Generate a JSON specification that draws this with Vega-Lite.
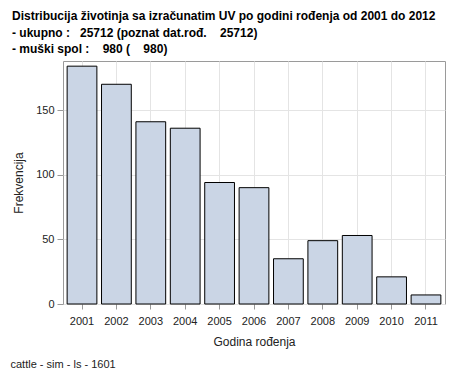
{
  "$schema": "https://vega.github.io/schema/vega-lite/v6.json",
  "autosize": "none",
  "width": 382,
  "height": 243,
  "padding": {"left": 63, "top": 61, "right": 9, "bottom": 74},
  "background": "white",
  "title": {
    "text": ["Distribucija životinja sa izračunatim UV po godini rođenja od 2001 do 2012", "- ukupno :\u00a0\u00a0\u00a025712 (poznat dat.rođ.\u00a0\u00a0\u00a0\u00a025712)", "- muški spol :\u00a0\u00a0\u00a0\u00a0980 (\u00a0\u00a0\u00a0\u00a0980)"],
    "anchor": "start",
    "frame": "group",
    "dx": -51,
    "offset": 5,
    "font": "Liberation Sans",
    "fontSize": 12,
    "fontWeight": "bold",
    "color": "black",
    "lineHeight": 16.5
  },
  "data": {
    "values": [
      {"year": "2001", "n": 184},
      {"year": "2002", "n": 170},
      {"year": "2003", "n": 141},
      {"year": "2004", "n": 136},
      {"year": "2005", "n": 94},
      {"year": "2006", "n": 90},
      {"year": "2007", "n": 35},
      {"year": "2008", "n": 49},
      {"year": "2009", "n": 53},
      {"year": "2010", "n": 21},
      {"year": "2011", "n": 7}
    ]
  },
  "layer": [
    {
      "mark": {"type": "bar", "fill": "#CAD5E5", "stroke": "black", "strokeWidth": 1},
      "encoding": {
        "x": {
          "field": "year", "type": "ordinal",
          "scale": {"paddingInner": 0.135, "paddingOuter": 0.12},
          "axis": {
            "title": "Godina rođenja",
            "labelAngle": 0,
            "grid": true,
            "bandPosition": 0.5,
            "gridColor": "#E4E4E4",
            "domain": false,
            "tickColor": "#999999",
            "tickSize": 5,
            "labelPadding": 6,
            "labelFont": "Liberation Sans",
            "labelFontSize": 11,
            "labelColor": "#222222",
            "titleFont": "Liberation Sans",
            "titleFontSize": 12,
            "titleFontWeight": "normal",
            "titleColor": "#222222",
            "titleBaseline": "alphabetic",
            "titleY": 41
          }
        },
        "y": {
          "field": "n", "type": "quantitative",
          "scale": {"domain": [0, 188], "nice": false},
          "axis": {
            "title": "Frekvencija",
            "values": [0, 50, 100, 150],
            "grid": true,
            "gridColor": "#E4E4E4",
            "domain": false,
            "tickColor": "#999999",
            "tickSize": 6,
            "labelPadding": 3,
            "labelFont": "Liberation Sans",
            "labelFontSize": 11,
            "labelColor": "#222222",
            "titleFont": "Liberation Sans",
            "titleFontSize": 12,
            "titleFontWeight": "normal",
            "titleColor": "#222222",
            "titleBaseline": "middle",
            "titleX": -45
          }
        }
      }
    },
    {
      "mark": {"type": "bar", "fillOpacity": 0, "strokeOpacity": 0},
      "encoding": {
        "x": {
          "field": "year", "type": "ordinal",
          "axis": {
            "orient": "bottom",
            "title": "cattle - sim - ls - 1601",
            "labels": false,
            "ticks": false,
            "domain": false,
            "grid": false,
            "titleAnchor": "start",
            "titleAlign": "left",
            "titleX": -53,
            "titleY": 63,
            "titleBaseline": "alphabetic",
            "titleFont": "Liberation Sans",
            "titleFontSize": 11,
            "titleFontWeight": "normal",
            "titleColor": "#222222"
          }
        },
        "y": {"field": "n", "type": "quantitative"}
      }
    }
  ],
  "resolve": {"axis": {"x": "independent"}},
  "config": {
    "view": {"stroke": "#9A9A9A", "strokeWidth": 1}
  }
}
